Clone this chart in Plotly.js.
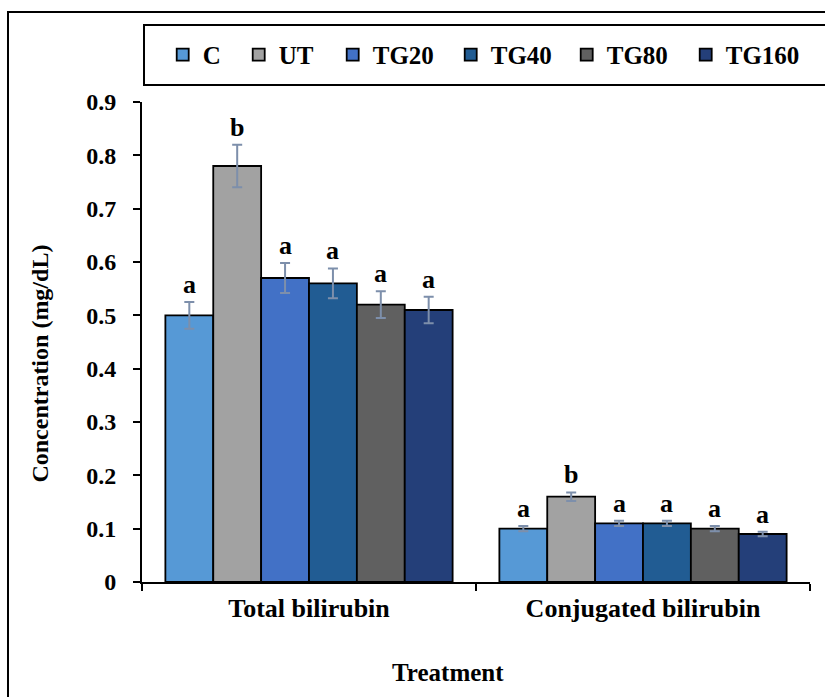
<!DOCTYPE html>
<html>
<head>
<meta charset="utf-8">
<script src="https://cdn.plot.ly/plotly-3.0.1.min.js"></script>
<style>html,body{margin:0;padding:0;background:#fff}#chart{width:825px;height:697px}</style>
</head>
<body>
<div id="chart"></div>
<script>
// ---- data ----
const categories = ["Total bilirubin", "Conjugated bilirubin"];
const groups = ["C", "UT", "TG20", "TG40", "TG80", "TG160"];
const valC     = [0.50, 0.10];
const valUT    = [0.78, 0.16];
const valTG20  = [0.57, 0.11];
const valTG40  = [0.56, 0.11];
const valTG80  = [0.52, 0.10];
const valTG160 = [0.51, 0.09];
const errC     = [0.025, 0.005];
const errUT    = [0.040, 0.008];
const errTG20  = [0.028, 0.005];
const errTG40  = [0.028, 0.005];
const errTG80  = [0.025, 0.005];
const errTG160 = [0.025, 0.004];
const letC     = ["a", "a"];
const letUT    = ["b", "b"];
const letTG20  = ["a", "a"];
const letTG40  = ["a", "a"];
const letTG80  = ["a", "a"];
const letTG160 = ["a", "a"];
const yTicks   = [0, 0.1, 0.2, 0.3, 0.4, 0.5, 0.6, 0.7, 0.8, 0.9];
const yTickText = ["0", "0.1", "0.2", "0.3", "0.4", "0.5", "0.6", "0.7", "0.8", "0.9"];

const values = [valC, valUT, valTG20, valTG40, valTG80, valTG160];
const errors = [errC, errUT, errTG20, errTG40, errTG80, errTG160];
const letters = [letC, letUT, letTG20, letTG40, letTG80, letTG160];
const colors = ["#5699d6", "#a2a2a2", "#4271c6", "#215c93", "#606060", "#243f79"];
const legendWidths = [31, 49, 73, 71, 74, 80];

const FONT = "Liberation Serif, Times New Roman, serif";
const bargap = 0.14;

const traces = groups.map((g, i) => ({
  type: "bar",
  name: g,
  x: categories,
  y: values[i],
  legendwidth: legendWidths[i],
  marker: {color: colors[i], line: {color: "#000", width: 1.8}},
  error_y: {type: "data", array: errors[i], visible: true, color: "#7d8fab", thickness: 2, width: 5}
}));

const w = (1 - bargap) / groups.length;
const annotations = [];
groups.forEach((g, i) => {
  categories.forEach((c, j) => {
    annotations.push({
      xref: "x", yref: "y",
      x: j - (1 - bargap) / 2 + w * (i + 0.5),
      y: values[i][j] + errors[i][j],
      text: letters[i][j],
      showarrow: false,
      yanchor: "bottom",
      yshift: 1,
      font: {family: FONT, size: 26, color: "#000", weight: "bold"}
    });
  });
});
annotations.push({
  xref: "paper", yref: "paper",
  x: 0.458, y: -0.1875,
  text: "Treatment", showarrow: false,
  xanchor: "center", yanchor: "middle",
  font: {family: FONT, size: 25, color: "#000", weight: "bold"}
});
annotations.push({
  xref: "paper", yref: "paper",
  x: -0.1527, y: 0.455,
  text: "Concentration (mg/dL)", showarrow: false, textangle: -90,
  xanchor: "center", yanchor: "middle",
  font: {family: FONT, size: 24, color: "#000", weight: "bold"}
});

const layout = {
  width: 825, height: 697,
  margin: {l: 142, r: 15, t: 102, b: 115},
  paper_bgcolor: "#fff", plot_bgcolor: "#fff",
  font: {family: FONT, size: 24, color: "#000", weight: "bold"},
  barmode: "group", bargap: bargap, bargroupgap: 0,
  xaxis: {
    type: "category",
    showline: true, linecolor: "#000", linewidth: 2,
    ticks: "outside", tickson: "boundaries", ticklen: 7, tickcolor: "#000", tickwidth: 2,
    ticklabelstandoff: 2,
    tickfont: {family: FONT, size: 26, color: "#000", weight: "bold"},
    showgrid: false, zeroline: false
  },
  yaxis: {
    range: [0, 0.9],
    tickvals: yTicks,
    ticktext: yTickText,
    showline: true, linecolor: "#000", linewidth: 2,
    ticks: "outside", ticklen: 7, tickcolor: "#000", tickwidth: 2,
    ticklabelstandoff: 12,
    showgrid: false, zeroline: false,
    tickfont: {family: FONT, size: 24, color: "#000", weight: "bold"}
  },
  showlegend: true,
  legend: {
    orientation: "h",
    x: 0.031, xanchor: "left",
    y: 1.098, yanchor: "middle",
    bgcolor: "rgba(0,0,0,0)", borderwidth: 0,
    itemwidth: 30,
    font: {family: FONT, size: 25, color: "#000", weight: "bold"},
    traceorder: "normal"
  },
  shapes: [
    {type: "rect", xref: "paper", yref: "paper", x0: -0.2006, x1: 1.04, y0: -0.25, y1: 1.1875,
     line: {color: "#000", width: 2}, fillcolor: "rgba(0,0,0,0)", layer: "below"},
    {type: "rect", xref: "paper", yref: "paper", x0: 0.003, x1: 1.04, y0: 1.0354, y1: 1.1604,
     line: {color: "#000", width: 2}, fillcolor: "rgba(0,0,0,0)", layer: "below"}
  ],
  annotations: annotations
};

Plotly.newPlot("chart", traces, layout, {displayModeBar: false, staticPlot: true});
</script>
</body>
</html>
